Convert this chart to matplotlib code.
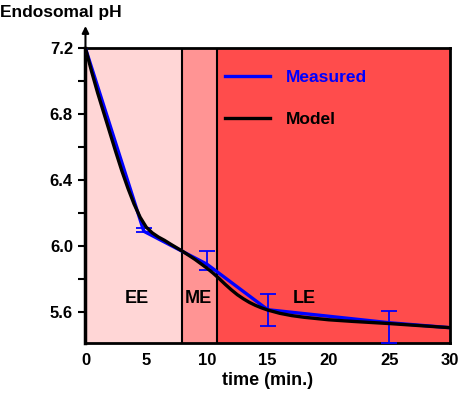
import matplotlib
matplotlib.use("Agg")
import matplotlib.pyplot as plt

plt.rcParams["font.family"] = ["Liberation Sans", "DejaVu Sans"]
plt.rcParams["font.weight"] = "bold"

# measured endosomal pH (with asymmetric error bars)
meas_t = [0, 4.8, 10, 15, 25, 30]
meas_ph = [7.2, 6.09, 5.89, 5.614, 5.535, 5.505]
err_lo = [0, 0.005, 0.034, 0.097, 0.125, 0]
err_hi = [0, 0.019, 0.08, 0.095, 0.07, 0]
bar_idx = [1, 2, 3, 4]

# model curve
model_t = [0, 0.5, 1, 1.5, 2, 2.5, 3, 3.5, 4, 4.5, 5, 5.5, 6, 6.5, 7, 7.5, 8, 8.5, 9, 9.5,
           10, 10.5, 11, 11.5, 12, 12.5, 13, 13.5, 14, 14.5, 15, 16, 17, 18, 20, 22, 25, 28, 30]
model_ph = [7.2, 7.06, 6.93, 6.81, 6.69, 6.57, 6.455, 6.35, 6.255, 6.175, 6.115, 6.08, 6.055,
            6.035, 6.012, 5.99, 5.968, 5.944, 5.92, 5.893, 5.866, 5.836, 5.803, 5.768, 5.735,
            5.705, 5.68, 5.658, 5.64, 5.625, 5.612, 5.592, 5.578, 5.568, 5.553, 5.543, 5.53,
            5.515, 5.505]

# compartments
zones = ["EE", "ME", "LE"]
zone_edges = [0, 7.95, 10.8, 30]
zone_colors = ["#FFD6D6", "#FF9494", "#FF4C4C"]
zone_label_pos = [4.2, 9.3, 18.0]

fig = plt.figure(figsize=(4.62, 3.96), dpi=100)
ax = fig.add_axes([0.185, 0.133, 0.789, 0.745])

for i, name in enumerate(zones):
    ax.axvspan(zone_edges[i], zone_edges[i + 1], color=zone_colors[i], lw=0, zorder=0)
    ax.text(zone_label_pos[i], 5.68, name, ha="center", va="center",
            fontsize=13, fontweight="bold", zorder=1)
for edge in zone_edges[1:3]:
    ax.axvline(edge, color="black", lw=1.5, zorder=1)

ax.plot(meas_t, meas_ph, color="#0000FF", lw=2.4, label="Measured", zorder=3)
ax.errorbar([meas_t[i] for i in bar_idx], [meas_ph[i] for i in bar_idx],
            yerr=[[err_lo[i] for i in bar_idx], [err_hi[i] for i in bar_idx]],
            fmt="none", ecolor="#0000FF", elinewidth=1.3, capsize=5.5, capthick=1.3,
            zorder=3, clip_on=True)
ax.plot(model_t, model_ph, color="black", lw=2.4, label="Model", zorder=4)

ax.set_xlim(0, 30)
ax.set_ylim(5.41, 7.2)
ax.set_xticks([0, 5, 10, 15, 20, 25, 30])
ax.set_yticks([5.6, 6.0, 6.4, 6.8, 7.2])
ax.set_yticks([5.8, 6.2, 6.6, 7.0], minor=True)
ax.set_yticklabels(["5.6", "6.0", "6.4", "6.8", "7.2"])
ax.tick_params(axis="x", length=0, pad=7, labelsize=12)
ax.tick_params(axis="y", which="both", length=5, width=1.5, direction="out", labelsize=12, pad=4)
for lab in ax.get_xticklabels() + ax.get_yticklabels():
    lab.set_fontweight("bold")

for side in ["top", "right", "bottom"]:
    ax.spines[side].set_linewidth(2)
ax.spines["left"].set_linewidth(2.5)

ax.annotate("", xy=(0, 1.085), xytext=(0, 0.99), xycoords="axes fraction",
            arrowprops=dict(arrowstyle="-|>", color="black", lw=1.5,
                            mutation_scale=10))
fig.text(0.0, 0.968, "Endosomal pH", fontsize=12.5, fontweight="bold", ha="left", va="center")
ax.set_xlabel("time (min.)", fontsize=13, fontweight="bold", labelpad=3)

leg = ax.legend(loc="upper left", bbox_to_anchor=(0.34, 0.98), frameon=False,
                handlelength=2.6, handletextpad=0.9, labelspacing=1.55,
                prop={"size": 12.5, "weight": "bold"})
leg.get_texts()[0].set_color("#0000FF")

fig.savefig("out.png", dpi=100)
